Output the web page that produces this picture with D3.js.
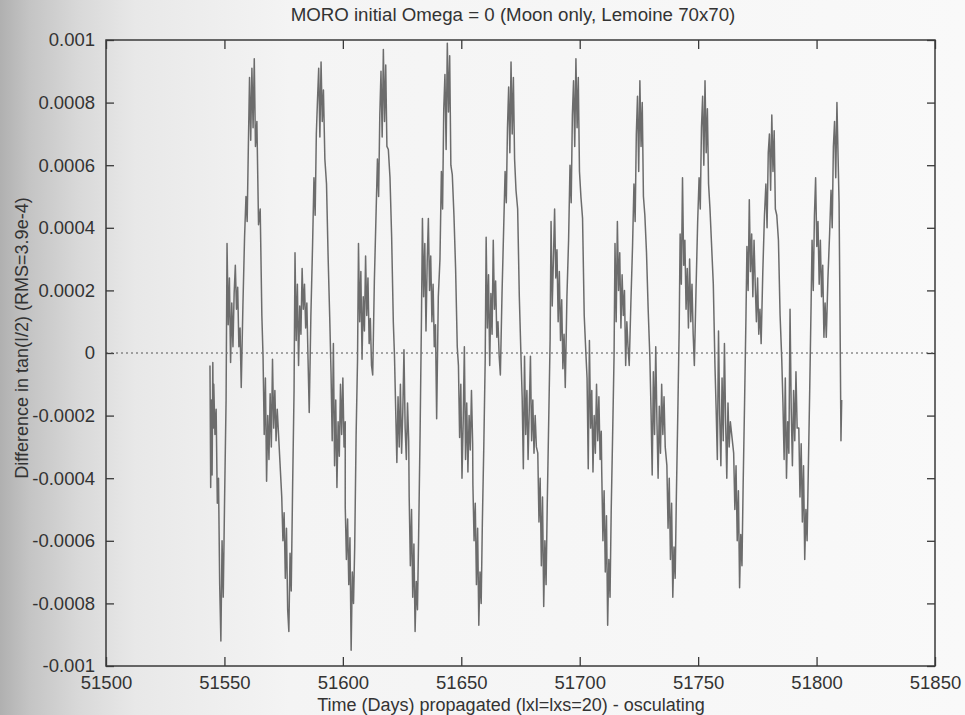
<!DOCTYPE html>
<html>
<head>
<meta charset="utf-8">
<script src="https://cdn.jsdelivr.net/npm/d3@7"></script>
<style>
  body { margin: 0; background: #f8f8f8; }
  svg text { font-family: "Liberation Sans", Arial, Helvetica, sans-serif; fill: #333; }
</style>
</head>
<body>
<div id="chart"></div>
<script>
const width = 965;
const height = 715;
const margin = {top: 40, right: 30, bottom: 49, left: 106};

const title = "MORO initial Omega = 0 (Moon only, Lemoine 70x70)";
const xLabel = "Time (Days) propagated (lxl=lxs=20) - osculating";
const yLabel = "Difference in tan(I/2) (RMS=3.9e-4)";

const xTicks = [51500, 51550, 51600, 51650, 51700, 51750, 51800, 51850];
const yTicks = [0.001, 0.0008, 0.0006, 0.0004, 0.0002, 0, -0.0002, -0.0004, -0.0006, -0.0008, -0.001];

// days after each trough (one lunar cycle ~27.4 d), shared by every cycle
const offsets = [-3.0, -2.5, -2.0, -1.5, -1.0, -0.5, 0.0, 0.5, 1.0, 1.6, 2.2,
  2.6, 3.1, 3.6, 4.1, 4.6, 5.1, 5.6, 6.1, 6.6, 7.1, 7.6, 8.1, 8.6,
  9.3, 10.0, 10.6, 11.1, 11.6, 12.1, 12.6, 13.1, 13.6, 14.1, 14.6, 15.2,
  15.9, 16.6, 17.3, 17.8, 18.3, 18.8, 19.3, 19.8, 20.3, 20.8, 21.3, 21.8,
  22.3, 22.8, 23.3, 23.8];

// day of each trough
const troughDays = [51548.5, 51577.2, 51604.0, 51631.0, 51657.9, 51685.3, 51712.3, 51739.8, 51768.0, 51795.5];

// values in units of 1e-4
const leadIn = [[51543.9, -0.4], [51544.2, -4.3], [51544.5, -1.5], [51544.8, -3.9], [51545.1, -0.3], [51545.3, -2.4]];

const cycle1 = [-1.0, -2.6, -1.8, -4.8, -4.0, -7.4, -9.2, -6.0, -7.8, -4.5, -1.5,
  3.5, 0.9, 2.4, -0.3, 1.6, 0.2, 1.9, 2.8, 1.4, 2.1, 0.2, 0.8, -1.1,
  1.5, 3.7, 5.0, 4.2, 6.6, 8.8, 6.8, 9.1, 7.2, 9.4, 6.6, 7.4,
  4.1, 4.6, 1.2, -0.1, -2.6, -0.8, -4.1, -2.0, -3.4, -1.3, -3.0, -0.2, -2.4, -1.2, -2.8, -1.8];
const cycle2 = [-4.6, -6.0, -5.1, -7.2, -5.6, -8.2, -8.9, -6.4, -7.6, -4.2, -1.2,
  3.2, 0.4, 2.2, -0.4, 1.5, 0.6, 2.7, 1.4, 2.2, 0.8, 1.6, -0.2, -1.9,
  1.2, 3.4, 5.6, 4.4, 7.0, 8.1, 9.1, 6.9, 9.3, 7.4, 8.4, 6.2,
  5.4, 3.0, 1.0, -0.6, -2.8, 0.3, -3.6, -1.5, -4.3, -2.2, -3.3, -1.0, -2.6, -0.8, -3.0, -2.2];
const cycle3 = [-4.9, -6.6, -5.3, -7.4, -5.9, -9.5, -7.0, -8.0, -6.2, -2.6, -0.2,
  3.5, 1.0, 2.6, -0.2, 1.8, 0.7, 3.1, 1.2, 2.4, 0.3, 1.1, -0.4, -0.7,
  2.3, 4.4, 6.2, 5.0, 7.6, 9.0, 6.9, 9.7, 7.4, 9.2, 6.6, 6.5,
  5.6, 3.7, 1.0, -0.1, -1.8, -3.5, -1.4, -3.0, -1.0, -3.2, -1.9, 0.1, -2.4, -3.4, -1.6, -2.8];
const cycle4 = [-4.6, -6.8, -5.0, -7.8, -6.1, -8.9, -7.3, -8.2, -5.8, -2.6, 1.2,
  4.3, 1.8, 3.5, 0.7, 2.9, 4.3, 2.0, 3.1, 1.0, 2.2, 0.2, 0.9, -2.1,
  1.8, 3.0, 5.8, 4.6, 7.8, 8.9, 6.5, 9.9, 7.7, 9.5, 6.0, 5.7,
  4.4, 2.7, 0.2, -0.4, -2.7, -1.0, -4.0, -2.2, 0.2, -3.4, -1.6, -3.8, -2.0, -3.1, -1.2, -2.9];
const cycle5 = [-4.2, -6.0, -4.8, -7.4, -5.6, -8.7, -7.0, -8.0, -5.4, -3.0, -0.2,
  3.7, 0.8, 2.5, -0.4, 1.9, 0.6, 3.6, 1.4, 2.3, 0.5, 1.0, -0.1, -0.7,
  1.9, 4.0, 5.8, 4.8, 7.2, 8.5, 6.4, 9.3, 7.0, 8.8, 6.2, 5.2,
  4.6, 1.8, -0.1, -1.4, -3.7, -0.1, -2.6, -1.2, -3.4, -1.8, -0.1, -2.8, -1.5, -3.2, -2.0, -3.0];
const cycle6 = [-3.2, -5.4, -4.0, -6.8, -4.6, -8.1, -6.0, -7.4, -4.8, -2.2, 0.4,
  4.2, 1.5, 3.0, 4.6, 2.4, 3.3, 1.0, 2.6, 0.4, 1.7, -0.5, 0.6, -1.1,
  1.8, 3.6, 6.0, 4.8, 7.6, 8.7, 6.6, 9.4, 7.2, 8.8, 5.8, 5.0,
  4.3, 1.2, 0.0, -0.8, -3.7, 0.4, -2.4, -1.2, -3.8, -2.0, -3.2, -1.0, -2.8, -1.4, -3.4, -2.5];
const cycle7 = [-3.8, -6.0, -4.4, -7.0, -5.2, -8.7, -6.6, -7.8, -5.0, -2.6, -0.1,
  3.5, 1.0, 4.2, 2.0, 3.2, 0.8, 2.5, 1.2, 2.0, -0.4, 1.0, 0.2, -0.4,
  1.6, 3.4, 5.4, 4.2, 7.0, 8.2, 5.8, 8.7, 6.6, 8.0, 5.0, 4.4,
  3.2, 1.4, -0.1, -1.8, -3.9, -0.6, -2.6, 0.2, -2.2, -4.0, -1.7, -3.2, -1.0, -2.6, -1.4, -3.0];
const cycle8 = [-3.6, -5.6, -4.0, -6.6, -4.8, -7.8, -6.2, -7.2, -4.6, -2.0, 0.8,
  3.8, 2.2, 5.6, 2.8, 3.6, 1.4, 2.7, 0.8, 3.0, 1.0, 2.2, 0.6, -0.4,
  2.0, 4.2, 5.6, 4.6, 7.2, 8.2, 6.0, 8.7, 6.4, 7.8, 5.4, 4.6,
  3.4, 2.2, -0.4, -1.8, -3.4, 0.7, -2.0, -3.6, -0.8, -2.8, 0.3, -2.2, -4.0, -1.6, -3.0, -2.2];
const cycle9 = [-3.2, -5.0, -3.6, -6.0, -4.4, -7.5, -5.8, -6.8, -4.2, -1.6, 1.2,
  3.4, 2.0, 4.9, 2.6, 3.8, 1.8, 3.6, 2.2, 1.0, 2.4, 0.6, 1.4, 0.3,
  2.6, 4.4, 5.4, 4.0, 6.4, 7.0, 5.2, 7.6, 5.8, 7.1, 4.6, 4.4,
  3.6, 1.2, -0.2, -1.6, -3.4, -0.8, -4.0, -2.2, -3.2, 1.4, -1.8, -3.6, -1.2, -2.8, -0.6, -2.4];
// last cycle stops just after its peak
const cycle10 = [-2.4, -4.6, -2.9, -5.4, -3.6, -6.6, -5.0, -6.0, -3.8, -1.2, 1.6,
  3.6, 2.0, 4.4, 5.6, 3.4, 4.2, 2.2, 3.6, 1.8, 2.8, 0.5, 1.6, 0.5,
  2.4, 3.8, 5.2, 4.0, 6.6, 7.4, 5.6, 8.0, 6.2];
const tailOut = [[51809.5, 4.8], [51809.9, 1.2], [51810.3, -2.8], [51810.6, -1.5]];

const cycles = [cycle1, cycle2, cycle3, cycle4, cycle5, cycle6, cycle7, cycle8, cycle9, cycle10];

let series = leadIn.map(([d, v]) => ({day: d, value: v * 1e-4}));
cycles.forEach((vals, i) => {
    vals.forEach((v, j) => series.push({day: troughDays[i] + offsets[j], value: v * 1e-4}));
});
tailOut.forEach(([d, v]) => series.push({day: d, value: v * 1e-4}));
series.sort((a, b) => a.day - b.day);

const svg = d3.select("#chart")
    .append("svg")
    .attr("width", width)
    .attr("height", height);

// scanned page: greyish towards the left edge
const grad = svg.append("defs").append("linearGradient")
    .attr("id", "paper").attr("x1", 0).attr("x2", 1).attr("y1", 0).attr("y2", 0);
[[0, "#b0b0b0"], [0.03, "#c4c4c4"], [0.08, "#d8d8d8"], [0.14, "#e8e8e8"], [0.3, "#f4f4f4"], [1, "#f9f9f9"]]
    .forEach(([o, c]) => grad.append("stop").attr("offset", o).attr("stop-color", c));
svg.append("rect").attr("width", width).attr("height", height).attr("fill", "url(#paper)");

const x = d3.scaleLinear().domain([51500, 51850]).range([margin.left, width - margin.right]);
const y = d3.scaleLinear().domain([-0.001, 0.001]).range([height - margin.bottom, margin.top]);

const yFmt = v => v === 0 ? "0" : String(+v.toFixed(4));

// bottom axis (ticks inward)
const gx = svg.append("g")
    .attr("transform", `translate(0,${height - margin.bottom})`)
    .call(d3.axisBottom(x).tickValues(xTicks).tickFormat(d3.format("d")).tickSize(-9).tickPadding(10));
// top axis ticks only
const gxt = svg.append("g")
    .attr("transform", `translate(0,${margin.top})`)
    .call(d3.axisTop(x).tickValues(xTicks).tickFormat("").tickSize(-9));
// left axis
const gy = svg.append("g")
    .attr("transform", `translate(${margin.left},0)`)
    .call(d3.axisLeft(y).tickValues(yTicks).tickFormat(yFmt).tickSize(-8).tickPadding(11));
// right axis ticks only
const gyr = svg.append("g")
    .attr("transform", `translate(${width - margin.right},0)`)
    .call(d3.axisRight(y).tickValues(yTicks).tickFormat("").tickSize(-8));

[gx, gxt, gy, gyr].forEach(g => {
    g.select(".domain").remove();
    g.selectAll(".tick line").attr("stroke", "#3a3a3a").attr("stroke-width", 1.3);
    g.selectAll(".tick text").attr("font-size", 18.5).attr("fill", "#333");
});

// zero line, dotted
svg.append("line")
    .attr("x1", margin.left).attr("x2", width - margin.right)
    .attr("y1", y(0)).attr("y2", y(0))
    .attr("stroke", "#555").attr("stroke-width", 1)
    .attr("stroke-dasharray", "2,3");

// data
svg.append("path")
    .datum(series)
    .attr("fill", "none")
    .attr("stroke", "#6c6c6c")
    .attr("stroke-width", 1.5)
    .attr("stroke-linejoin", "round")
    .attr("d", d3.line().x(d => x(d.day)).y(d => y(d.value)));

// frame
svg.append("rect")
    .attr("x", margin.left).attr("y", margin.top)
    .attr("width", width - margin.left - margin.right)
    .attr("height", height - margin.top - margin.bottom)
    .attr("fill", "none").attr("stroke", "#3a3a3a").attr("stroke-width", 1.5);

svg.append("text")
    .attr("x", 513).attr("y", 21)
    .attr("text-anchor", "middle").attr("font-size", 18.7)
    .text(title);

svg.append("text")
    .attr("x", 511).attr("y", 711)
    .attr("text-anchor", "middle").attr("font-size", 18)
    .text(xLabel);

svg.append("text")
    .attr("transform", `translate(28,${338}) rotate(-90)`)
    .attr("text-anchor", "middle").attr("font-size", 18)
    .text(yLabel);
</script>
</body>
</html>
